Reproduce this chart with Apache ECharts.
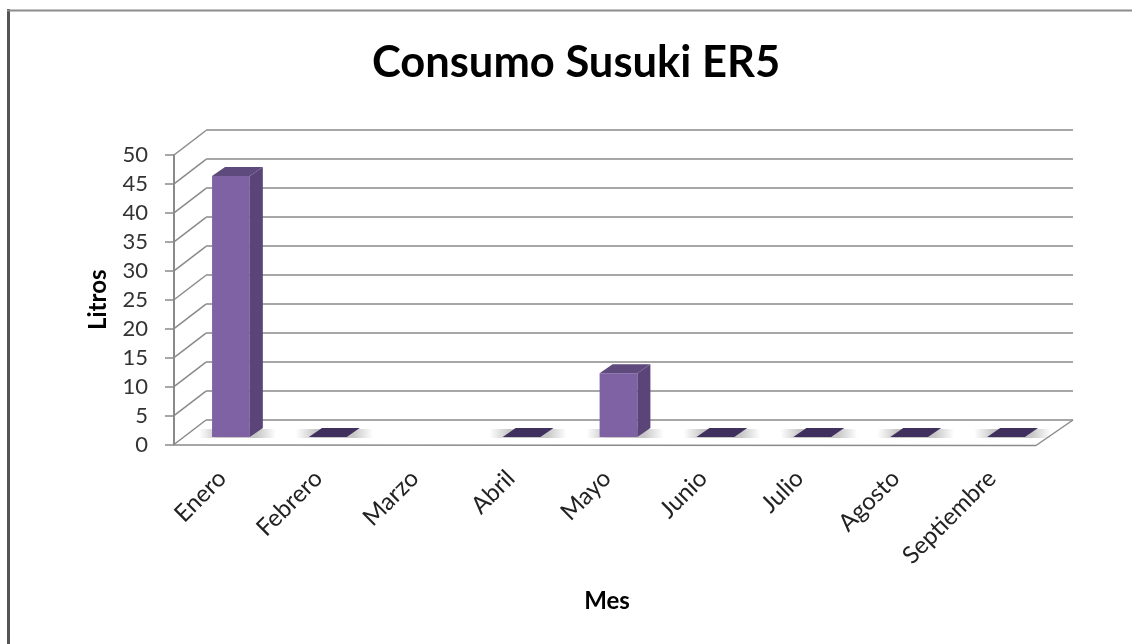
<!DOCTYPE html>
<html><head><meta charset="utf-8">
<style>html,body{margin:0;padding:0;background:#fff}#c{width:1132px;height:644px}</style>
<script src="https://cdn.jsdelivr.net/npm/echarts@6/dist/echarts.min.js"></script>
</head><body><div id="c"></div>
<script>
const titleText = 'Consumo Susuki ER5';
const xAxisName = 'Mes';
const yAxisName = 'Litros';
const categories = ['Enero','Febrero','Marzo','Abril','Mayo','Junio','Julio','Agosto','Septiembre'];
const litros = [45,0,null,0,11,0,0,0,0];
const yTicks = [0,5,10,15,20,25,30,35,40,45,50];

const FONT = 'Lato, "Open Sans", sans-serif';
const GRID = '#8a8a8a';
const DEPTH = [32,-24.5];
const BAR_DEPTH = [13,-9];
const FLOOR_TRIM = 4;
const yBase = {type:'value',min:0,max:50,interval:5};

const chart = echarts.init(document.getElementById('c'),null,{renderer:'canvas'});

function wallItem(params, api){
  const v = api.value(1);
  const cs = params.coordSys;
  const y = api.coord([0,v])[1];
  const style = {stroke:GRID,lineWidth:1.5,fill:null};
  const children = [{type:'line',shape:{x1:cs.x,y1:y,x2:cs.x+DEPTH[0],y2:y+DEPTH[1]},style}];
  if(v===0){
    const right = cs.x+cs.width-FLOOR_TRIM;
    children.push({type:'line',shape:{x1:cs.x,y1:y+0.5,x2:right,y2:y+1},style});
    children.push({type:'line',shape:{x1:right,y1:y+1,x2:right+DEPTH[0]+5,y2:y+DEPTH[1]},style});
  }
  return {type:'group',children};
}
function barItem(params, api){
  const raw = api.value(1);
  if(raw===null||raw===undefined||isNaN(raw)) return null;
  const c = api.coord([api.value(0),raw]);
  const b = api.coord([api.value(0),0]);
  const w = api.size([1,0])[0]*0.39;
  const l = c[0]-w/2, r = c[0]+w/2, t = c[1], bt = b[1];
  const dx = BAR_DEPTH[0], dy = BAR_DEPTH[1];
  const shadow = {type:'rect',shape:{x:l-13,y:bt+dy+1,width:w+dx+26,height:-dy},
    style:{fill:new echarts.graphic.LinearGradient(0,0,1,0,[
      {offset:0,color:'rgba(130,130,130,0)'},{offset:0.25,color:'rgba(130,130,130,0.45)'},
      {offset:0.75,color:'rgba(130,130,130,0.45)'},{offset:1,color:'rgba(130,130,130,0)'}])}};
  const top = {type:'polygon',shape:{points:[[l,t],[r,t],[r+dx,t+dy],[l+dx,t+dy]]},
    style:{fill:raw===0?'#40305e':'#5f4a7e'}};
  const children = [shadow];
  if(raw>0){
    children.push({type:'rect',shape:{x:l,y:t,width:w,height:bt-t},style:{fill:'#7f62a3'}});
    children.push({type:'polygon',shape:{points:[[r,t],[r+dx,t+dy],[r+dx,bt+dy],[r,bt]]},style:{fill:'#5a4478'}});
  }
  children.push(top);
  return {type:'group',children};
}

chart.setOption({
  animation:false,
  backgroundColor:'#fff',
  title:{text:titleText,left:571,top:36,textAlign:'center',
    textStyle:{fontFamily:FONT,fontWeight:'bold',fontSize:43.5,color:'#000'}},
  grid:[
    {left:206,width:867,top:130,height:290},
    {left:174,width:866,top:155,height:289.5},
    {left:182.5,width:872,top:147,height:290}
  ],
  xAxis:[
    {gridIndex:0,type:'category',data:categories,show:false},
    {gridIndex:1,type:'category',data:categories,
      name:xAxisName,nameLocation:'middle',nameGap:145,
      nameTextStyle:{fontFamily:FONT,fontWeight:'bold',fontSize:24,color:'#000'},
      axisLine:{show:false},axisTick:{show:false},
      axisLabel:{rotate:45,interval:0,margin:30,fontFamily:FONT,fontSize:24,color:'#222'}},
    {gridIndex:2,type:'category',data:categories,show:false}
  ],
  yAxis:[
    Object.assign({gridIndex:0,axisLabel:{show:false},axisLine:{show:false},axisTick:{show:false},
      splitLine:{show:true,lineStyle:{color:GRID,width:1.5}}},yBase),
    Object.assign({gridIndex:1,name:yAxisName,nameLocation:'middle',nameGap:64,
      nameTextStyle:{fontFamily:FONT,fontWeight:'bold',fontSize:24,color:'#000'},
      axisLine:{show:true,lineStyle:{color:GRID,width:2}},
      axisTick:{show:true,length:9,lineStyle:{color:GRID,width:1.5}},
      axisLabel:{margin:26,fontFamily:FONT,fontSize:22,color:'#333'},
      splitLine:{show:false}},yBase),
    Object.assign({gridIndex:2,show:false,splitLine:{show:false}},yBase)
  ],
  series:[
    {type:'custom',xAxisIndex:1,yAxisIndex:1,silent:true,renderItem:wallItem,
      encode:{x:0,y:1},data:yTicks.map(v=>[0,v]),z:2},
    {type:'custom',name:'Litros',xAxisIndex:2,yAxisIndex:2,renderItem:barItem,
      encode:{x:0,y:1},data:litros.map((v,i)=>[i,v]),z:5}
  ],
  graphic:[
    {type:'line',silent:true,z:100,shape:{x1:8.5,y1:9,x2:8.5,y2:644},style:{stroke:'#555',lineWidth:3}},
    {type:'line',silent:true,z:100,shape:{x1:7,y1:10.5,x2:1132,y2:10.5},style:{stroke:'#8c8c8c',lineWidth:2}}
  ]
});
</script></body></html>
